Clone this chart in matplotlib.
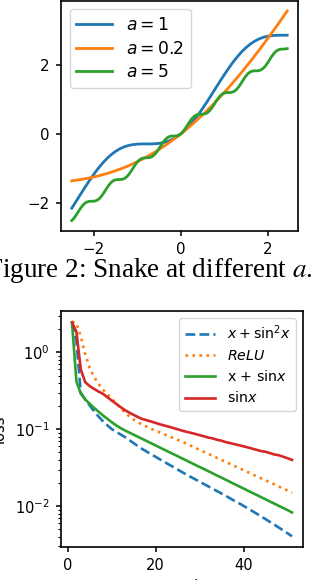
import matplotlib
matplotlib.use("Agg")
import matplotlib.pyplot as plt

# ---------------- data: top panel (snake function) -------------
x_coarse = [-2.5, -2.4, -2.3, -2.2, -2.1, -2.0, -1.9, -1.8, -1.7, -1.6, -1.5, -1.4, -1.3,
            -1.2, -1.1, -1.0, -0.9, -0.8, -0.7, -0.6, -0.5, -0.4, -0.3, -0.2, -0.1, 0.0,
            0.1, 0.2, 0.3, 0.4, 0.5, 0.6, 0.7, 0.8, 0.9, 1.0, 1.1, 1.2, 1.3, 1.4, 1.5,
            1.6, 1.7, 1.8, 1.9, 2.0, 2.1, 2.2, 2.3, 2.4, 2.45]
y_a1 = [-2.142, -1.944, -1.744, -1.546, -1.355, -1.173, -1.005, -0.852, -0.717, -0.601,
        -0.505, -0.429, -0.372, -0.331, -0.306, -0.292, -0.286, -0.285, -0.285, -0.281,
        -0.270, -0.248, -0.213, -0.161, -0.090, 0.000, 0.110, 0.240, 0.387, 0.552,
        0.730, 0.919, 1.115, 1.315, 1.514, 1.708, 1.894, 2.069, 2.228, 2.371, 2.495,
        2.599, 2.683, 2.748, 2.796, 2.827, 2.845, 2.854, 2.856, 2.856, 2.857]
y_a02 = [-1.351, -1.334, -1.315, -1.293, -1.269, -1.242, -1.212, -1.180, -1.144, -1.105,
         -1.063, -1.018, -0.970, -0.918, -0.862, -0.803, -0.740, -0.673, -0.603, -0.528,
         -0.450, -0.368, -0.282, -0.192, -0.098, 0.000, 0.102, 0.208, 0.318, 0.432,
         0.550, 0.672, 0.797, 0.927, 1.060, 1.197, 1.338, 1.483, 1.630, 1.782, 1.937,
         2.095, 2.256, 2.421, 2.588, 2.758, 2.931, 3.107, 3.285, 3.466, 3.557]
x_fine = [-2.5, -2.45, -2.4, -2.35, -2.3, -2.25, -2.2, -2.15, -2.1, -2.05,
          -2.0, -1.95, -1.9, -1.85, -1.8, -1.75, -1.7, -1.65, -1.6, -1.55,
          -1.5, -1.45, -1.4, -1.35, -1.3, -1.25, -1.2, -1.15, -1.1, -1.05,
          -1.0, -0.95, -0.9, -0.85, -0.8, -0.75, -0.7, -0.65, -0.6, -0.55,
          -0.5, -0.45, -0.4, -0.35, -0.3, -0.25, -0.2, -0.15, -0.1, -0.05,
          0.0, 0.05, 0.1, 0.15, 0.2, 0.25, 0.3, 0.35, 0.4, 0.45,
          0.5, 0.55, 0.6, 0.65, 0.7, 0.75, 0.8, 0.85, 0.9, 0.95,
          1.0, 1.05, 1.1, 1.15, 1.2, 1.25, 1.3, 1.35, 1.4, 1.45,
          1.5, 1.55, 1.6, 1.65, 1.7, 1.75, 1.8, 1.85, 1.9, 1.95,
          2.0, 2.05, 2.1, 2.15, 2.2, 2.25, 2.3, 2.35, 2.4, 2.45]
y_a5 = [-2.499, -2.431, -2.342, -2.244, -2.147, -2.063, -2.000, -1.962, -1.945, -1.942,
        -1.941, -1.930, -1.899, -1.844, -1.766, -1.672, -1.573, -1.480, -1.404, -1.352,
        -1.324, -1.315, -1.314, -1.310, -1.291, -1.250, -1.184, -1.098, -1.001, -0.903,
        -0.816, -0.750, -0.709, -0.690, -0.685, -0.685, -0.675, -0.648, -0.596, -0.521,
        -0.428, -0.329, -0.235, -0.156, -0.101, -0.070, -0.058, -0.057, -0.054, -0.038,
        0.000, 0.062, 0.146, 0.243, 0.342, 0.430, 0.499, 0.544, 0.565, 0.571,
        0.572, 0.579, 0.604, 0.652, 0.725, 0.815, 0.915, 1.010, 1.091, 1.150,
        1.184, 1.198, 1.200, 1.202, 1.216, 1.250, 1.309, 1.391, 1.486, 1.586,
        1.676, 1.748, 1.796, 1.820, 1.828, 1.828, 1.834, 1.856, 1.901, 1.970,
        2.059, 2.158, 2.255, 2.338, 2.400, 2.437, 2.453, 2.456, 2.458, 2.469]
top_labels = ["$a = 1$", "$a = 0.2$", "$a = 5$"]

# ---------------- data: bottom panel (loss curves) ----------------
epochs = list(range(1, 52))
loss_snake = [2.45, 1.40, 0.30, 0.245, 0.205, 0.172, 0.147, 0.128, 0.113, 0.101,
              0.093, 0.086, 0.0794, 0.0724, 0.0661, 0.0603, 0.0553, 0.0512, 0.0473, 0.0439,
              0.0406, 0.0377, 0.0349, 0.0324, 0.0300, 0.0278, 0.0258, 0.0240, 0.0224, 0.0208,
              0.0194, 0.0181, 0.0168, 0.0157, 0.0146, 0.0136, 0.0126, 0.0117, 0.0109, 0.0101,
              0.00933, 0.00863, 0.00798, 0.00736, 0.00679, 0.00625, 0.00575, 0.00528, 0.00485,
              0.00445, 0.00407]
loss_relu = [2.5, 2.4, 1.6, 0.95, 0.63, 0.48, 0.39, 0.33, 0.287, 0.25,
             0.218, 0.19, 0.166, 0.148, 0.134, 0.123, 0.115, 0.108, 0.101, 0.096,
             0.091, 0.086, 0.0815, 0.077, 0.073, 0.069, 0.065, 0.0612, 0.0575, 0.0541,
             0.0509, 0.0479, 0.0451, 0.0424, 0.0399, 0.0375, 0.0353, 0.0332, 0.0312, 0.0294,
             0.0277, 0.0260, 0.0245, 0.0230, 0.0217, 0.0204, 0.0192, 0.0180, 0.0170, 0.0160,
             0.0150]
loss_xsin = [2.45, 0.42, 0.29, 0.245, 0.215, 0.19, 0.17, 0.152, 0.137, 0.124,
             0.113, 0.104, 0.0968, 0.0908, 0.0851, 0.0798, 0.0748, 0.0702, 0.0658, 0.0617,
             0.0578, 0.0542, 0.0508, 0.0477, 0.0447, 0.0419, 0.0393, 0.0368, 0.0345, 0.0324,
             0.0304, 0.0285, 0.0267, 0.0250, 0.0235, 0.0220, 0.0206, 0.0193, 0.0181, 0.0170,
             0.0159, 0.0149, 0.0140, 0.0131, 0.0123, 0.0115, 0.0108, 0.0101, 0.0095, 0.0089,
             0.0083]
loss_sin = [2.45, 1.85, 0.60, 0.41, 0.365, 0.335, 0.31, 0.29, 0.262, 0.237,
            0.215, 0.195, 0.178, 0.165, 0.154, 0.144, 0.136, 0.131, 0.126, 0.121,
            0.116, 0.112, 0.108, 0.104, 0.100, 0.096, 0.093, 0.090, 0.087, 0.084,
            0.081, 0.078, 0.076, 0.073, 0.071, 0.068, 0.066, 0.064, 0.062, 0.060,
            0.058, 0.056, 0.054, 0.052, 0.051, 0.049, 0.047, 0.046, 0.044, 0.042,
            0.040]
bottom_labels = [r"$x + \sin^2\!x$", r"$ReLU$", r"x + sin$x$", r"sin$x$"]

# ---------------- style ----------------
plt.rcParams.update({
    "axes.linewidth": 1.2,
    "xtick.major.size": 3.6, "ytick.major.size": 3.6,
    "xtick.major.width": 1.1, "ytick.major.width": 1.1,
    "xtick.minor.size": 2.2, "ytick.minor.size": 2.2,
    "xtick.minor.width": 0.8, "ytick.minor.width": 0.8,
    "xtick.major.pad": 4.5, "ytick.major.pad": 4.5,
})
C = ["#1f77b4", "#ff7f0e", "#2ca02c", "#d62728"]

fig = plt.figure(figsize=(3.16, 5.8), dpi=100)

# top panel
ax1 = fig.add_axes([61 / 316, 1 - 231 / 580, 237 / 316, 230.5 / 580])
ax1.plot(x_coarse, y_a1, color=C[0], lw=2.0, label=top_labels[0])
ax1.plot(x_coarse, y_a02, color=C[1], lw=2.0, label=top_labels[1])
ax1.plot(x_fine, y_a5, color=C[2], lw=2.0, label=top_labels[2])
ax1.set_xticks([-2, 0, 2])
ax1.set_yticks([-2, 0, 2])
ax1.tick_params(labelsize=10.8)
ax1.legend(loc="upper left", fontsize=12.3, handlelength=2.1, labelspacing=0.33)

# caption
fig.text(313 / 316, 1 - 277 / 580, "Figure 2: Snake at different $a$.",
         ha="right", va="baseline", fontsize=19.5, family="Liberation Serif",
         math_fontfamily="stix")

# bottom panel
ax2 = fig.add_axes([61 / 316, 1 - 547 / 580, 242 / 316, 236 / 580])
ax2.plot(epochs, loss_snake, color=C[0], lw=1.9, ls="--", label=bottom_labels[0])
ax2.plot(epochs, loss_relu, color=C[1], lw=1.9, ls=":", label=bottom_labels[1])
ax2.plot(epochs, loss_xsin, color=C[2], lw=1.9, label=bottom_labels[2])
ax2.plot(epochs, loss_sin, color=C[3], lw=1.9, label=bottom_labels[3])
ax2.set_yscale("log")
ax2.set_xticks([0, 20, 40])
ax2.tick_params(labelsize=10.5)
ax2.set_ylabel("loss", fontsize=10.5, labelpad=6)
ax2.set_xlabel("epoch", fontsize=10.5)
ax2.legend(loc="upper right", fontsize=10.2, handlelength=2.15, labelspacing=0.45)

fig.savefig("out.png", dpi=100)
